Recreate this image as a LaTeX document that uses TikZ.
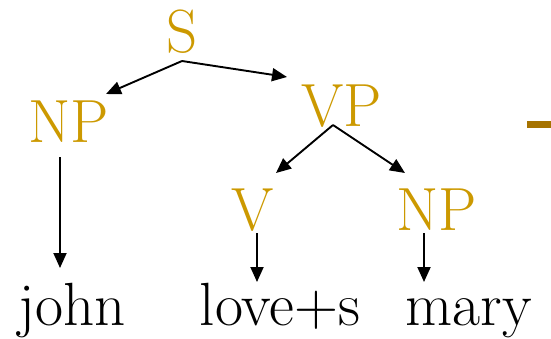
\documentclass[tikz,border=0pt]{standalone}
\usetikzlibrary{arrows.meta,calc}
\definecolor{cat}{HTML}{CC9900}
\definecolor{dashc}{HTML}{A67300}
\begin{document}
\begin{tikzpicture}[x=1pt,y=1pt,
  lbl/.style={inner sep=0pt,outer sep=0pt,anchor=base,font=\rmfamily\fontsize{61}{66}\selectfont},
  catlbl/.style={lbl,text=cat},
  wrd/.style={lbl,text=black},
  arr/.style={line width=1.9pt,-{Triangle[length=15pt,width=13pt]}}]
\useasboundingbox (0,0) rectangle (551,338);
\node[catlbl] (S) at (182.5,285) {S};
\node[catlbl] (NPl) at (68.7,196) {NP};
\node[catlbl] (VP) at (342,212) {VP};
\node[catlbl] (V) at (252.5,108) {V};
\node[catlbl] (NPr) at (436.7,108) {NP};
\node[wrd] (john) at (72,13) {john};
\node[wrd] (loves) at (280,13) {love+s};
\node[wrd] (mary) at (469,13) {mary};
\draw[arr] ($(S.base)+(-0.5,-8)$) -- ($(NPl.base)+(37.3,48)$);
\draw[arr] ($(S.base)+(-0.5,-8)$) -- ($(VP.base)+(-55,49)$);
\draw[arr] ($(VP.base)+(-9,1)$) -- ($(V.base)+(23.5,57)$);
\draw[arr] ($(VP.base)+(-9,1)$) -- ($(NPr.base)+(-31.7,57)$);
\draw[arr] ($(NPl.base)+(-8.7,-15)$) -- ($(john.base)+(-12,57)$);
\draw[arr] ($(V.base)+(4.5,-3)$) -- ($(loves.base)+(-23,43)$);
\draw[arr] ($(NPr.base)+(-12.7,-3)$) -- ($(mary.base)+(-45,43)$);
\fill[dashc] (527,210) rectangle (551,217);
\end{tikzpicture}
\end{document}
